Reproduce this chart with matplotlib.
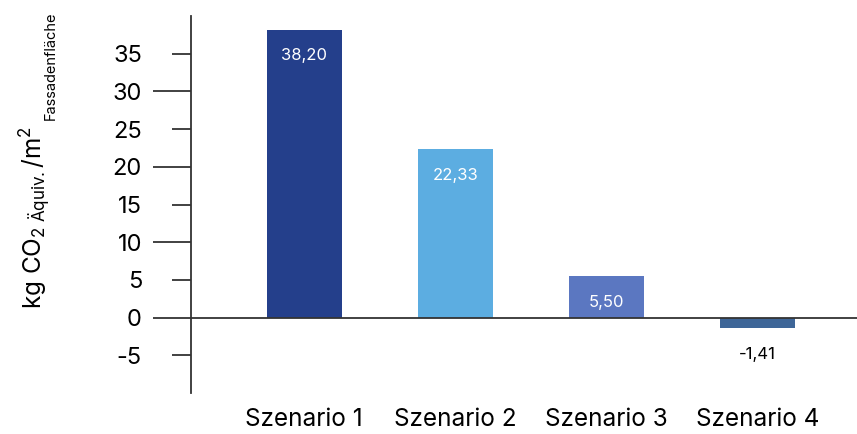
import matplotlib
matplotlib.use("Agg")
import matplotlib.pyplot as plt
from matplotlib.ticker import FixedLocator

plt.rcParams['font.family'] = ['Inter', 'DejaVu Sans']
plt.rcParams['mathtext.fontset'] = 'custom'
plt.rcParams['mathtext.rm'] = 'Inter'
plt.rcParams['mathtext.it'] = 'Inter'

categories = ["Szenario 1", "Szenario 2", "Szenario 3", "Szenario 4"]
values = [38.20, 22.33, 5.50, -1.41]
labels = ["38,20", "22,33", "5,50", "-1,41"]
colors = ["#243F8B", "#5CADE1", "#5B77C1", "#3E6698"]

W, H = 857, 434
fig = plt.figure(figsize=(W / 100, H / 100), dpi=100)
ax = fig.add_axes([191/W, 41/H, 1 - 191/W, (393-16)/H])

x = list(range(len(categories)))
ax.bar(x, values, width=0.5, color=colors, zorder=2)

ax.set_xlim(-0.75, 3.66)
ax.set_ylim(-10, 40)
ax.axhline(0, color="#333333", lw=1.3, zorder=3)

for xi, v, lab in zip(x, values, labels):
    if v > 3:
        ax.annotate(lab, (xi, v), xytext=(0, -19), textcoords='offset points',
                    ha='center', va='center', color='white', fontsize=12)
    else:
        ax.annotate(lab, (xi, v), xytext=(0, -19), textcoords='offset points',
                    ha='center', va='center', color='black', fontsize=12)

for s in ['top', 'right', 'bottom']:
    ax.spines[s].set_visible(False)
ax.spines['left'].set_linewidth(1.3)
ax.spines['left'].set_color('#333333')

ax.yaxis.set_major_locator(FixedLocator([0, 10, 20, 30]))
ax.yaxis.set_minor_locator(FixedLocator([-5, 5, 15, 25, 35]))
fmt = plt.FuncFormatter(lambda v, p: f"{v:.0f}")
ax.yaxis.set_minor_formatter(fmt)
ax.yaxis.set_major_formatter(fmt)
ax.tick_params(axis='y', which='major', length=27.4, width=1.3, color='#333333',
               pad=7.9, labelsize=17)
ax.tick_params(axis='y', which='minor', length=13.7, width=1.3, color='#333333',
               pad=21.6, labelsize=17)

ax.set_xticks(x)
ax.set_xticklabels(categories)
ax.tick_params(axis='x', length=0, pad=11, labelsize=17.5)

# y-axis label: main part plus small trailing subscript
main = fig.text(42/W, 1 - 309/H, r'kg CO$_{2\ \mathrm{Äquiv.}}$/m$^{2}$',
                rotation=90, rotation_mode='anchor', ha='left', va='baseline',
                fontsize=17.5)
fig.canvas.draw()
bb = main.get_window_extent(fig.canvas.get_renderer())
fig.text(55/W, (bb.y1 + 6) / H, 'Fassadenfläche',
         rotation=90, rotation_mode='anchor', ha='left', va='baseline',
         fontsize=10.5)

fig.savefig("out.png", dpi=100)
